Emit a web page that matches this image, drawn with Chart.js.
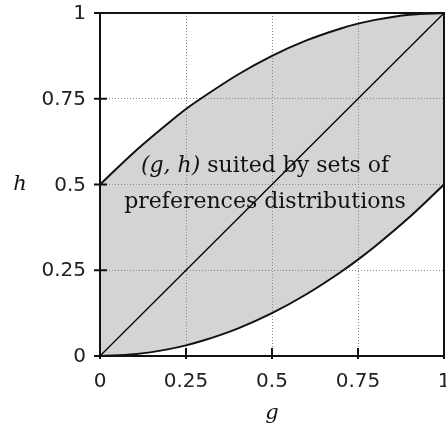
<!DOCTYPE html>
<html>
<head>
<meta charset="utf-8">
<script src="https://cdn.jsdelivr.net/npm/chart.js@4.4.0/dist/chart.umd.min.js"></script>
<style>
  html, body { margin: 0; padding: 0; background: #fff; }
  #wrap { width: 446px; height: 432px; }
</style>
</head>
<body>
<div id="wrap"><canvas id="regionChart" width="446" height="432"></canvas></div>
<script>
// g values sampled along the horizontal axis
const gValues = [0, 0.1, 0.2, 0.25, 0.3, 0.4, 0.5, 0.6, 0.7, 0.75, 0.8, 0.9, 1];
// upper boundary of the shaded region
const upperH = [0.5, 0.595, 0.68, 0.72, 0.755, 0.82, 0.875, 0.92, 0.955, 0.969, 0.98, 0.995, 1];
// lower boundary of the shaded region
const lowerH = [0, 0.005, 0.02, 0.031, 0.045, 0.08, 0.125, 0.18, 0.245, 0.281, 0.32, 0.405, 0.5];
// diagonal g = h
const diagG = [0, 1];
const diagH = [0, 1];
const tickValues = [0, 0.25, 0.5, 0.75, 1];
const tickLabels = ['0', '0.25', '0.5', '0.75', '1'];
const regionText = ['suited by sets of', 'preferences distributions'];

const toPoints = (xs, ys) => xs.map((x, i) => ({ x: x, y: ys[i] }));

const tickFont = '20px "DejaVu Sans"';
const serifFont = '22px "DejaVu Serif"';
const serifItalic = 'italic 22px "DejaVu Serif"';

const decorations = {
    id: 'decorations',
    afterDraw(chart) {
        const ctx = chart.ctx;
        const xs = chart.scales.x;
        const ys = chart.scales.y;
        const a = chart.chartArea;
        ctx.save();
        // frame
        ctx.strokeStyle = '#111';
        ctx.lineWidth = 2;
        ctx.strokeRect(a.left, a.top, a.right - a.left, a.bottom - a.top);
        // tick marks and labels
        ctx.fillStyle = '#222';
        ctx.font = tickFont;
        tickValues.forEach((v, i) => {
            const py = ys.getPixelForValue(v);
            ctx.beginPath();
            ctx.moveTo(a.left - 6, py);
            ctx.lineTo(a.left + 7, py);
            ctx.stroke();
            ctx.textAlign = 'right';
            ctx.textBaseline = 'middle';
            ctx.fillText(tickLabels[i], a.left - 14, py + 1);
            const px = xs.getPixelForValue(v);
            ctx.beginPath();
            ctx.moveTo(px, a.bottom + 3);
            ctx.lineTo(px, a.bottom - 8);
            ctx.stroke();
            ctx.textAlign = 'center';
            ctx.fillText(tickLabels[i], px, a.bottom + 26);
        });
        // axis titles
        ctx.fillStyle = '#111';
        ctx.textBaseline = 'middle';
        ctx.textAlign = 'center';
        ctx.font = 'italic 21px "DejaVu Serif"';
        ctx.fillText('h', 20, ys.getPixelForValue(0.5));
        ctx.fillText('g', xs.getPixelForValue(0.5), 414);
        // region label
        const cx = 265;
        const y1 = 166, y2 = 202;
        const prefix = '(g, h)';
        ctx.font = serifItalic;
        const wPre = ctx.measureText(prefix).width;
        ctx.font = serifFont;
        const wRest = ctx.measureText(' ' + regionText[0]).width;
        let x0 = cx - (wPre + wRest) / 2;
        ctx.textAlign = 'left';
        ctx.font = serifItalic;
        ctx.fillText(prefix, x0, y1);
        ctx.font = serifFont;
        ctx.fillText(' ' + regionText[0], x0 + wPre, y1);
        ctx.textAlign = 'center';
        ctx.fillText(regionText[1], cx, y2);
        ctx.restore();
    }
};

new Chart(document.getElementById('regionChart'), {
    type: 'scatter',
    data: {
        datasets: [
            {
                label: 'upper',
                data: toPoints(gValues, upperH),
                showLine: true,
                borderColor: '#111',
                borderWidth: 2,
                pointRadius: 0,
                fill: 1,
                backgroundColor: '#d4d4d4',
                cubicInterpolationMode: 'monotone'
            },
            {
                label: 'lower',
                data: toPoints(gValues, lowerH),
                showLine: true,
                borderColor: '#111',
                borderWidth: 2,
                pointRadius: 0,
                fill: false,
                cubicInterpolationMode: 'monotone'
            },
            {
                label: 'diagonal',
                data: toPoints(diagG, diagH),
                showLine: true,
                borderColor: '#000',
                borderWidth: 1.3,
                pointRadius: 0,
                fill: false
            }
        ]
    },
    options: {
        responsive: false,
        animation: false,
        layout: { padding: { top: 13, right: 2, left: 0, bottom: 0 } },
        plugins: {
            legend: { display: false },
            tooltip: { enabled: false },
            filler: { drawTime: 'beforeDraw' }
        },
        scales: {
            x: {
                type: 'linear',
                min: 0,
                max: 1,
                afterBuildTicks: axis => { axis.ticks = tickValues.map(v => ({ value: v })); },
                afterFit: axis => { axis.height = 76; },
                ticks: { display: false },
                grid: {
                    drawTicks: false,
                    color: ctx => (ctx.tick && (ctx.tick.value === 0 || ctx.tick.value === 1)) ? 'rgba(0,0,0,0)' : '#888',
                    lineWidth: 1
                },
                border: { display: false, dash: [1, 2] }
            },
            y: {
                type: 'linear',
                min: 0,
                max: 1,
                afterBuildTicks: axis => { axis.ticks = tickValues.map(v => ({ value: v })); },
                afterFit: axis => { axis.width = 100; },
                ticks: { display: false },
                grid: {
                    drawTicks: false,
                    color: ctx => (ctx.tick && (ctx.tick.value === 0 || ctx.tick.value === 1)) ? 'rgba(0,0,0,0)' : '#888',
                    lineWidth: 1
                },
                border: { display: false, dash: [1, 2] }
            }
        }
    },
    plugins: [decorations]
});
</script>
</body>
</html>
